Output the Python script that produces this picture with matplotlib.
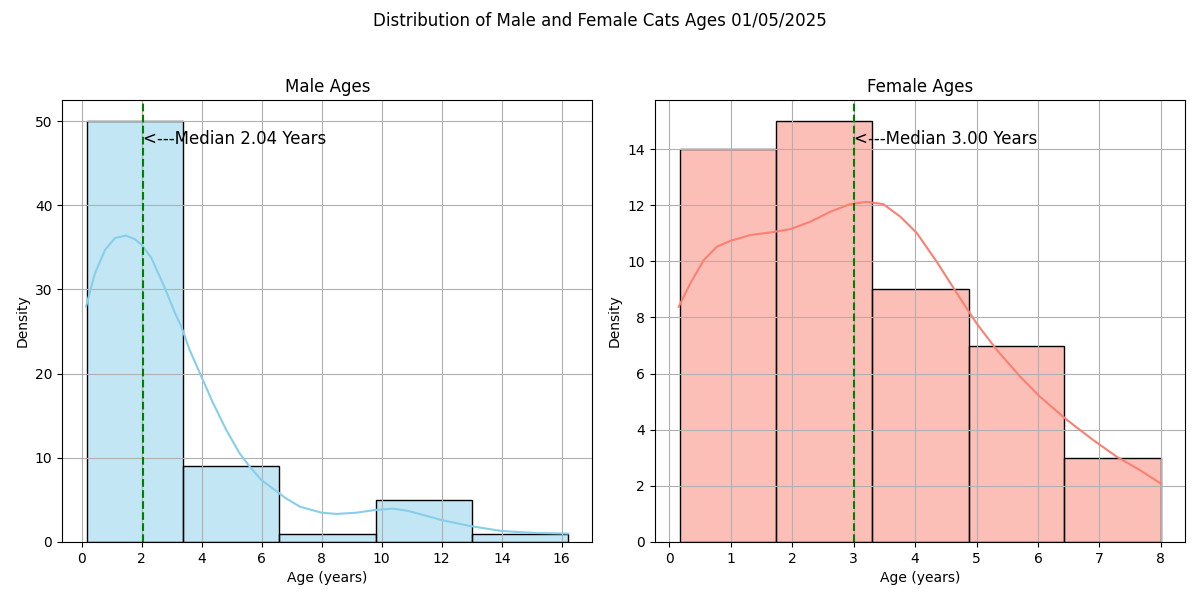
import numpy as np
import matplotlib
matplotlib.use('Agg')
import matplotlib.pyplot as plt
from matplotlib.colors import to_rgba

# Histogram bins and counts
male_edges = [0.17, 3.38, 6.59, 9.80, 13.01, 16.22]
male_counts = [50, 9, 1, 5, 1]
female_edges = [0.17, 1.74, 3.30, 4.87, 6.43, 8.0]
female_counts = [14, 15, 9, 7, 3]

# KDE curves (scaled to counts)
male_kde_x = [0.15, 0.44, 0.78, 1.11, 1.47, 1.78, 2.0, 2.33, 2.78, 3.11, 3.32, 3.6,
              3.97, 4.38, 4.82, 5.27, 5.6, 5.99, 6.43, 6.8, 7.27, 7.99, 8.49, 9.16, 9.77, 10.38,
              10.87, 11.4, 12.0, 12.94, 14.0, 15.1, 16.22]
male_kde_y = [28.0, 31.9, 34.7, 36.1, 36.4, 35.95, 35.3, 33.7, 30.1, 27.2, 25.6, 22.8,
              19.8, 16.5, 13.3, 10.5, 8.95, 7.36, 6.2, 5.2, 4.2, 3.48, 3.33, 3.48, 3.8, 3.96,
              3.7, 3.2, 2.6, 1.9, 1.3, 1.07, 1.0]

female_kde_x = [0.15, 0.34, 0.56, 0.77, 0.99, 1.32, 1.64, 1.97, 2.29, 2.62, 2.94, 3.21,
                3.48, 3.76, 4.03, 4.35, 4.68, 5.0, 5.33, 5.71, 6.03, 6.47, 6.9,
                7.28, 7.66, 8.0]
female_kde_y = [8.38, 9.22, 10.05, 10.52, 10.73, 10.94, 11.03, 11.15, 11.41, 11.77, 12.04, 12.12,
                12.04, 11.59, 11.0, 9.99, 8.86, 7.79, 6.84, 5.89, 5.18, 4.35, 3.63,
                3.04, 2.56, 2.08]

male_median = 2.04
female_median = 3.00


def draw_panel(ax, edges, counts, kde_x, kde_y, color, median, title):
    edges = np.array(edges)
    ax.bar(edges[:-1], counts, width=np.diff(edges), align='edge',
           facecolor=to_rgba(color, 0.5), edgecolor='black', linewidth=1)
    ax.plot(kde_x, kde_y, color=color, linewidth=1.5)
    ax.axvline(median, color='green', linestyle='--', linewidth=1.5)
    ax.text(median, ax.get_ylim()[1] * 0.9, f'<---Median {median:.2f} Years', fontsize=12)
    ax.set_title(title)
    ax.set_xlabel('Age (years)')
    ax.set_ylabel('Density')
    ax.grid(True)


fig, (ax1, ax2) = plt.subplots(1, 2, figsize=(12, 6), dpi=100)
draw_panel(ax1, male_edges, male_counts, male_kde_x, male_kde_y, 'skyblue', male_median, 'Male Ages')
draw_panel(ax2, female_edges, female_counts, female_kde_x, female_kde_y, 'salmon', female_median, 'Female Ages')
fig.suptitle('Distribution of Male and Female Cats Ages 01/05/2025')
plt.subplots_adjust(left=0.0517, right=0.9875, bottom=0.0967, top=0.8333, wspace=0.117)
plt.savefig('out.png')
